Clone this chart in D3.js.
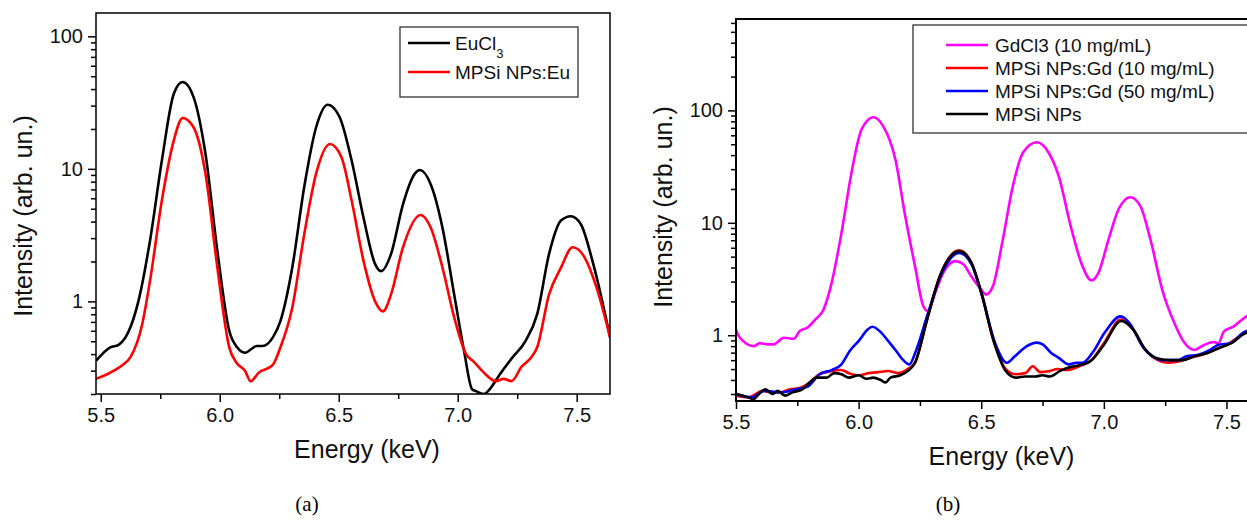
<!DOCTYPE html>
<html>
<head>
<meta charset="utf-8">
<script src="https://cdn.jsdelivr.net/npm/d3@7"></script>
<style>
  body { margin: 0; background: #fff; }
  svg { display: block; font-family: "Liberation Sans", Arial, sans-serif; }
</style>
</head>
<body>
<div id="chart"></div>
<script>
// ---- panel (a) data: [energy keV, intensity] ----
const euCl3 = [[5.48,0.356],[5.54,0.45],[5.575,0.47],[5.625,0.64],[5.658,1.0],[5.707,2.87],[5.757,11.6],[5.807,36.9],[5.844,45.2],[5.89,34.8],[5.94,13],[5.99,2.4],[6.04,0.6],[6.073,0.45],[6.106,0.41],[6.156,0.46],[6.18,0.46],[6.222,0.53],[6.255,0.71],[6.305,1.81],[6.355,7.3],[6.405,20.6],[6.454,30.5],[6.504,24.5],[6.554,11.6],[6.604,4.3],[6.653,1.91],[6.678,1.69],[6.72,2.28],[6.77,5.4],[6.82,9.2],[6.841,9.8],[6.886,7.7],[6.936,3.6],[6.985,1.13],[7.027,0.42],[7.06,0.218],[7.077,0.21],[7.11,0.2],[7.135,0.218],[7.176,0.28],[7.226,0.37],[7.284,0.5],[7.334,0.8],[7.384,2.28],[7.434,4.07],[7.475,4.39],[7.517,3.84],[7.566,2.03],[7.641,0.53]];
const mpsiEu = [[5.48,0.26],[5.54,0.29],[5.59,0.33],[5.625,0.38],[5.674,0.67],[5.707,1.43],[5.757,5.8],[5.807,16.4],[5.844,24.2],[5.89,20.6],[5.94,9.2],[5.99,1.8],[6.04,0.45],[6.073,0.34],[6.106,0.3],[6.13,0.25],[6.164,0.29],[6.222,0.33],[6.255,0.45],[6.305,0.9],[6.355,3.2],[6.405,9.2],[6.463,15.4],[6.512,12.2],[6.554,5.8],[6.604,2.03],[6.653,1.0],[6.686,0.84],[6.72,1.13],[6.77,2.56],[6.844,4.49],[6.886,3.62],[6.936,1.8],[6.985,0.76],[7.035,0.4],[7.068,0.35],[7.11,0.29],[7.16,0.25],[7.193,0.26],[7.226,0.25],[7.268,0.32],[7.31,0.38],[7.334,0.45],[7.384,1.13],[7.434,1.8],[7.483,2.56],[7.533,2.15],[7.583,1.28],[7.641,0.53]];

// ---- panel (b) data ----
const gdCl3 = [[5.5,1.12],[5.516,0.95],[5.573,0.8],[5.597,0.85],[5.63,0.83],[5.654,0.83],[5.695,0.95],[5.736,0.93],[5.76,1.09],[5.792,1.17],[5.825,1.39],[5.857,1.69],[5.89,2.92],[5.93,8.1],[5.971,27.9],[6.012,67.7],[6.06,87],[6.1,72.5],[6.15,36.6],[6.19,11.5],[6.23,4.1],[6.264,1.81],[6.283,1.64],[6.312,2.38],[6.345,3.59],[6.394,4.56],[6.426,4.3],[6.459,3.35],[6.5,2.55],[6.52,2.3],[6.548,2.74],[6.588,7.1],[6.629,21.2],[6.67,42],[6.727,52],[6.775,42],[6.816,26],[6.865,9.3],[6.913,4.1],[6.949,3.07],[6.978,3.59],[7.019,7.1],[7.06,13.2],[7.108,16.9],[7.149,14.1],[7.19,7.1],[7.238,2.55],[7.287,1.29],[7.328,0.86],[7.368,0.74],[7.409,0.82],[7.45,0.87],[7.466,0.84],[7.49,1.08],[7.53,1.2],[7.555,1.33],[7.577,1.45],[7.6,1.55]];
const gd10 = [[5.5,0.29],[5.55,0.28],[5.61,0.32],[5.65,0.31],[5.68,0.31],[5.72,0.33],[5.76,0.34],[5.8,0.38],[5.84,0.45],[5.89,0.48],[5.93,0.49],[5.96,0.46],[6.0,0.44],[6.04,0.46],[6.08,0.47],[6.12,0.48],[6.16,0.46],[6.2,0.5],[6.23,0.57],[6.28,1.4],[6.33,3.3],[6.41,5.7],[6.46,4.4],[6.5,2.4],[6.55,0.9],[6.6,0.5],[6.64,0.45],[6.68,0.46],[6.71,0.53],[6.74,0.47],[6.78,0.48],[6.81,0.5],[6.85,0.49],[6.9,0.53],[6.95,0.6],[7.0,0.85],[7.07,1.38],[7.12,1.12],[7.17,0.74],[7.22,0.6],[7.26,0.57],[7.3,0.58],[7.35,0.63],[7.4,0.67],[7.45,0.74],[7.5,0.82],[7.58,1.05],[7.6,1.08]];
const gd50 = [[5.5,0.3],[5.565,0.28],[5.614,0.32],[5.679,0.31],[5.744,0.33],[5.792,0.35],[5.841,0.45],[5.89,0.49],[5.93,0.55],[5.963,0.72],[6.004,0.91],[6.036,1.12],[6.056,1.19],[6.093,1.05],[6.117,0.91],[6.15,0.74],[6.182,0.6],[6.207,0.55],[6.231,0.7],[6.28,1.5],[6.33,3.2],[6.41,5.4],[6.46,4.3],[6.5,2.4],[6.556,0.86],[6.605,0.57],[6.637,0.65],[6.686,0.8],[6.727,0.86],[6.751,0.83],[6.784,0.7],[6.816,0.63],[6.857,0.55],[6.889,0.57],[6.913,0.57],[6.954,0.7],[7.003,1.05],[7.068,1.47],[7.108,1.25],[7.157,0.8],[7.198,0.65],[7.238,0.6],[7.303,0.6],[7.336,0.65],[7.385,0.67],[7.433,0.74],[7.466,0.82],[7.515,0.85],[7.577,1.08],[7.6,1.1]];
const mpsi = [[5.5,0.3],[5.55,0.28],[5.57,0.27],[5.6,0.31],[5.62,0.33],[5.65,0.3],[5.67,0.32],[5.7,0.29],[5.73,0.31],[5.77,0.33],[5.8,0.38],[5.83,0.42],[5.87,0.42],[5.9,0.46],[5.93,0.45],[5.96,0.42],[6.0,0.44],[6.03,0.41],[6.06,0.42],[6.09,0.4],[6.11,0.38],[6.13,0.42],[6.17,0.44],[6.2,0.48],[6.23,0.57],[6.28,1.4],[6.33,3.3],[6.41,5.6],[6.46,4.4],[6.5,2.4],[6.55,0.9],[6.6,0.48],[6.64,0.42],[6.68,0.43],[6.72,0.43],[6.75,0.44],[6.78,0.43],[6.82,0.48],[6.86,0.52],[6.9,0.54],[6.95,0.6],[7.0,0.82],[7.07,1.34],[7.12,1.12],[7.17,0.74],[7.22,0.62],[7.27,0.6],[7.32,0.6],[7.37,0.65],[7.42,0.69],[7.47,0.77],[7.52,0.85],[7.58,1.05],[7.6,1.07]];

const xTicks = [5.5, 6.0, 6.5, 7.0, 7.5];
const yTicks = [1, 10, 100];

const svg = d3.select("#chart").append("svg")
    .attr("width", 1247)
    .attr("height", 520);

function minorLog(lo, hi) {
    const out = [];
    for (let e = -1; e <= 3; e++) {
        for (let m = 2; m <= 9; m++) {
            const v = m * Math.pow(10, e);
            if (v >= lo && v <= hi) out.push(v);
        }
    }
    return out;
}

function drawPanel(p) {
    const x = d3.scaleLinear().domain(p.xDomain).range([p.left, p.right]);
    const y = d3.scaleLog().domain(p.yDomain).range([p.bottom, p.top]);
    const g = svg.append("g");

    g.append("clipPath").attr("id", p.id + "clip")
        .append("rect")
        .attr("x", p.left).attr("y", p.top)
        .attr("width", p.right - p.left).attr("height", p.bottom - p.top);

    const line = d3.line()
        .x(d => x(d[0]))
        .y(d => y(d[1]))
        .curve(d3.curveMonotoneX);

    p.series.forEach(s => {
        g.append("path")
            .datum(s.data)
            .attr("clip-path", `url(#${p.id}clip)`)
            .attr("fill", "none")
            .attr("stroke", s.color)
            .attr("stroke-width", 2.6)
            .attr("stroke-linejoin", "round")
            .attr("d", line);
    });

    // Eixo X
    const xMinor = d3.range(5.75, 7.6, 0.5).filter(v => v > p.xDomain[0] && v < p.xDomain[1]);
    g.append("g")
        .attr("transform", `translate(0,${p.bottom})`)
        .call(d3.axisBottom(x).tickValues(xMinor).tickSize(5).tickFormat(""))
        .call(a => a.select(".domain").remove());
    g.append("g")
        .attr("transform", `translate(0,${p.bottom})`)
        .call(d3.axisBottom(x).tickValues(xTicks).tickSize(8).tickPadding(6).tickFormat(d3.format(".1f")))
        .call(a => a.select(".domain").remove())
        .call(a => a.selectAll("text").attr("font-size", 20).attr("fill", "#111").attr("font-family", "Liberation Sans"));

    // Eixo Y (log)
    g.append("g")
        .attr("transform", `translate(${p.left},0)`)
        .call(d3.axisLeft(y).tickValues(minorLog(p.yDomain[0], p.yDomain[1])).tickSize(5).tickFormat(""))
        .call(a => a.select(".domain").remove());
    g.append("g")
        .attr("transform", `translate(${p.left},0)`)
        .call(d3.axisLeft(y).tickValues(yTicks).tickSize(8).tickPadding(5).tickFormat(d3.format("d")))
        .call(a => a.select(".domain").remove())
        .call(a => a.selectAll("text").attr("font-size", 20).attr("fill", "#111").attr("font-family", "Liberation Sans"));

    g.selectAll(".tick line").attr("stroke", "#000").attr("stroke-width", 1.5);

    g.append("rect")
        .attr("x", p.left).attr("y", p.top)
        .attr("width", p.right - p.left).attr("height", p.bottom - p.top)
        .attr("fill", "none").attr("stroke", "#000").attr("stroke-width", p.frameWidth);

    g.append("text")
        .attr("x", (p.left + p.right) / 2 + p.titleShift)
        .attr("y", p.bottom + 64)
        .attr("text-anchor", "middle")
        .attr("font-size", 25)
        .attr("fill", "#111")
        .text("Energy (keV)");

    g.append("text")
        .attr("transform", `translate(${p.left - 64},${p.yTitleY}) rotate(-90)`)
        .attr("text-anchor", "middle")
        .attr("font-size", 25)
        .attr("fill", "#111")
        .text("Intensity (arb. un.)");

    g.append("text")
        .attr("x", p.left + p.captionX)
        .attr("y", 511)
        .attr("text-anchor", "middle")
        .attr("font-family", "Liberation Serif")
        .attr("font-size", 21)
        .attr("fill", "#000")
        .text(p.caption);

    // legenda
    const lg = p.legend;
    g.append("rect")
        .attr("x", lg.x).attr("y", lg.y).attr("width", lg.w).attr("height", lg.h)
        .attr("fill", "#fff").attr("stroke", "#333").attr("stroke-width", 1.3);
    p.series.forEach((s, i) => {
        const yy = lg.y + lg.first + i * lg.step;
        g.append("line")
            .attr("x1", lg.x + lg.lx1).attr("x2", lg.x + lg.lx2)
            .attr("y1", yy).attr("y2", yy)
            .attr("stroke", s.color).attr("stroke-width", 2.6);
        const t = g.append("text")
            .attr("x", lg.x + lg.tx).attr("y", yy + 7)
            .attr("font-size", 19).attr("fill", "#111");
        t.append("tspan").text(s.name);
        if (s.sub) {
            t.append("tspan").attr("font-size", 13).attr("dy", 8).text(s.sub);
        }
    });
}

drawPanel({
    id: "a", left: 96, right: 610, top: 13, bottom: 394,
    xDomain: [5.48, 7.64], yDomain: [0.2, 150],
    frameWidth: 1.5, titleShift: 14, yTitleY: 216, captionX: 211, caption: "(a)",
    series: [
        { name: "EuCl", sub: "3", color: "#000000", data: euCl3 },
        { name: "MPSi NPs:Eu", color: "#ff0000", data: mpsiEu }
    ],
    legend: { x: 400, y: 27, w: 178, h: 70, first: 16, step: 29, lx1: 8, lx2: 50, tx: 55 }
});

drawPanel({
    id: "b", left: 736, right: 1251, top: 19, bottom: 401,
    xDomain: [5.5, 7.6], yDomain: [0.26, 650],
    frameWidth: 2, titleShift: 8, yTitleY: 207, captionX: 212, caption: "(b)",
    series: [
        { name: "GdCl3 (10 mg/mL)", color: "#ff00ff", data: gdCl3 },
        { name: "MPSi NPs:Gd (10 mg/mL)", color: "#ff0000", data: gd10 },
        { name: "MPSi NPs:Gd (50 mg/mL)", color: "#0000ff", data: gd50 },
        { name: "MPSi NPs", color: "#000000", data: mpsi }
    ],
    legend: { x: 913, y: 25, w: 350, h: 108, first: 20, step: 23, lx1: 33, lx2: 75, tx: 82 }
});
</script>
</body>
</html>
